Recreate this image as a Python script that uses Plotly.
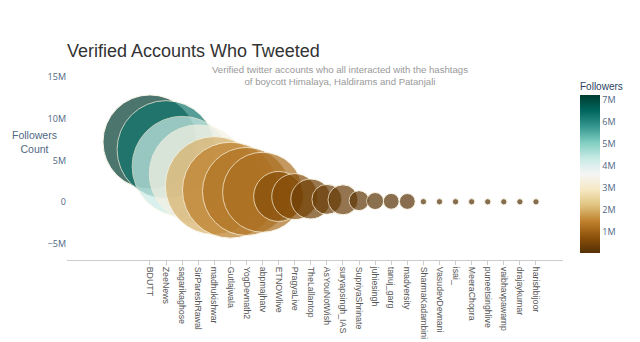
import plotly.graph_objects as go

accounts = ["BDUTT", "ZeeNews", "sagarikaghose", "SirPareshRawal", "madhukishwar",
            "Gutlajwala", "YogDevnath2", "abpmajhatv", "ETNOWlive", "PragyaLive",
            "TheLallantop", "AsYouNotWish", "suryapsingh_IAS", "SupriyaShrinate",
            "juhiesingh", "tanuj_garg", "madversity", "SharmaKadambini",
            "VasudevDevnani", "isai_", "MeeraChopra", "puneetsinghlive",
            "vaibhavpawarnp", "drajaykumar", "harishbijoor"]

followers = [7220000, 6300000, 4300000, 3400000, 2000000,
             1450000, 1300000, 1200000, 700000, 680000,
             400000, 350000, 300000, 200000,
             150000, 120000, 100000, 70000,
             66000, 64000, 62000, 61000,
             60000, 59000, 58000]

tweets = [884, 960, 1000, 960, 960,
          920, 775, 640, 250, 212,
          160, 90, 90, 40,
          29, 25, 25, 4,
          4, 4, 4, 4,
          4, 4, 4]

max_px = 100
fig = go.Figure(go.Scatter(
    x=accounts, y=followers, mode="markers",
    marker=dict(
        size=tweets, sizemode="area", sizeref=2.0 * max(tweets) / (max_px ** 2),
        color=followers, colorscale="BrBG", opacity=0.7,
        line=dict(width=1, color="rgb(250,245,225)"),
        colorbar=dict(
            title=dict(text="Followers", side="top",
                       font=dict(size=10, color="#2a3f5f", family="Arial, Liberation Sans")),
            thickness=20, len=174/192, lenmode="fraction", y=(260-166)/192, yanchor="middle",
            x=(580-67)/496, xanchor="left", xpad=0, ypad=0, outlinewidth=0, ticks="",
            dtick=1e6, tickfont=dict(size=9, color="#506784"),
        ),
    ),
    hovertemplate="%{x}: %{y}<extra></extra>",
))

fig.update_layout(
    width=640, height=342,
    margin=dict(l=67, r=77, t=68, b=82, autoexpand=False),
    paper_bgcolor="white", plot_bgcolor="white",
    showlegend=False,
    title=dict(text="Verified Accounts Who Tweeted", x=67/640, xanchor="left",
               y=1 - 51/342, yanchor="middle",
               font=dict(size=18, color="#333333", family="Arial, Liberation Sans")),
    xaxis=dict(range=[-5.16, 25.68], showgrid=False, zeroline=False,
               showline=True, linecolor="#cccccc", linewidth=1,
               ticks="outside", ticklen=4, tickcolor="#cccccc",
               tickangle=90, tickfont=dict(size=8.8, color="#555555", family="Arial, Liberation Sans")),
    yaxis=dict(range=[-6.9e6, 16.06e6], showgrid=False, zeroline=False,
               showline=False, dtick=5e6,
               tickfont=dict(size=9, color="#506784")),
    annotations=[
        dict(text="Verified twitter accounts who all interacted with the hashtags<br>of boycott Himalaya, Haldirams and Patanjali",
             xref="paper", yref="paper", x=(340-67)/496, y=(260-75)/192,
             xanchor="center", yanchor="middle", showarrow=False, align="center",
             font=dict(size=9.6, color="#999999", family="Arial, Liberation Sans")),
        dict(text="Followers<br>Count", xref="paper", yref="paper",
             x=(34-67)/496, y=(260-142)/192, xanchor="center", yanchor="middle",
             showarrow=False, align="center",
             font=dict(size=10.5, color="#506784", family="Arial, Liberation Sans")),
    ],
)

fig.write_html("out.html")
